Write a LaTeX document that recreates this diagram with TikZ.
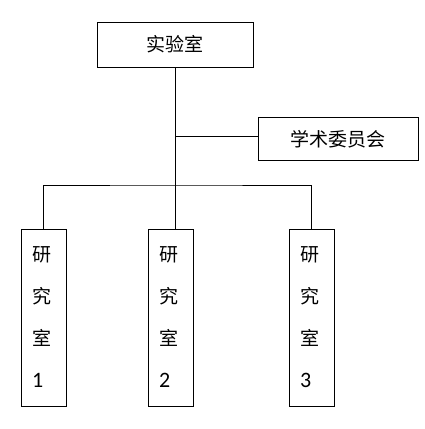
\documentclass[tikz,border=0pt]{standalone}
\usepackage{fontspec}
\setmainfont{Carlito}
\newfontfamily\cjk{Noto Sans CJK SC}
\usetikzlibrary{positioning}

\begin{document}
\begin{tikzpicture}[x=1pt,y=-1pt,line width=1pt,
    unitbox/.style={draw,rectangle,inner sep=0pt,font=\cjk\fontsize{19}{22}\selectfont},
    roombox/.style={draw,rectangle,minimum height=177pt,text width=23pt,inner xsep=11pt,
      inner ysep=0pt,align=left,font=\fontsize{19}{42}\selectfont}]
  \useasboundingbox (0,0) rectangle (424,429);
  \node[unitbox,minimum width=156pt,minimum height=45pt] (lab) at (175,44.5) {实验室};
  \node[unitbox,minimum width=160pt,minimum height=43pt,text height=17pt] (council) at (338,138.5) {学术委员会};
  \foreach \n/\x in {1/43.5,2/170.5,3/311.5}{
    \node[roombox] (room\n) at (\x,317.5) {{\cjk 研}\\{\cjk 究}\\{\cjk 室}\\{\fontsize{22}{42}\selectfont\n}};
  }
  \coordinate (tap) at (175,136);
  \coordinate (fork) at (175,185);
  \draw (lab.south) -- (lab.south |- room2.north);
  \draw (tap) -- (council.west |- tap);
  \draw (room1.north) |- (fork) -| (room3.north);
\end{tikzpicture}
\end{document}
